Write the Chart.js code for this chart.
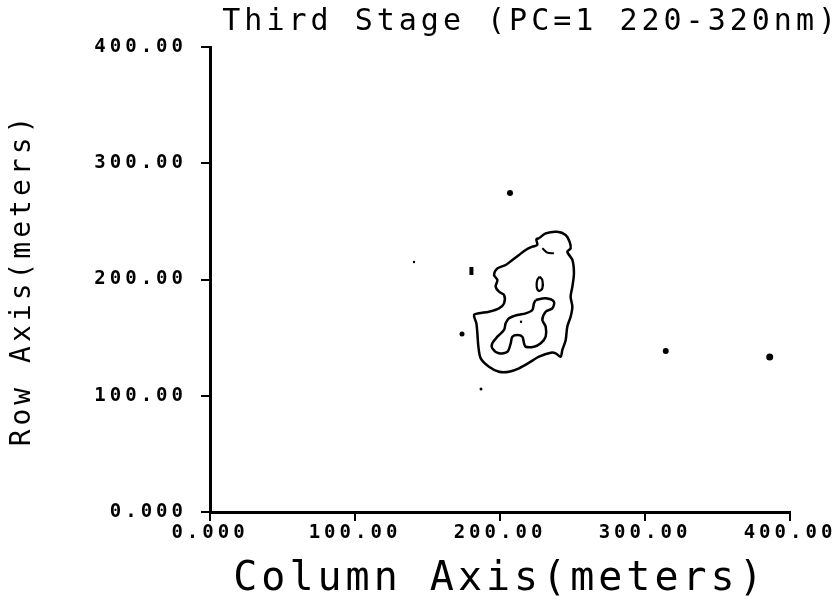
<!DOCTYPE html>
<html>
<head>
<meta charset="utf-8">
<script src="https://cdn.jsdelivr.net/npm/chart.js@4.4.1/dist/chart.umd.min.js"></script>
<style>
    html, body { margin: 0; padding: 0; background: #fff; }
</style>
</head>
<body>
<canvas id="contour-chart" width="840" height="604"></canvas>
<script>
// Axis ticks
const tickValues = [0, 100, 200, 300, 400];
const tickLabels = ["0.000", "100.00", "200.00", "300.00", "400.00"];

// Contour lines, [column, row] in meters
const outerContour = [
    [226.9, 235.4], [231.5, 239.7], [239.5, 241.1], [245.3, 238.3], [248.0, 232.5],
    [248.7, 226.8], [246.4, 223.9], [249.9, 216.8], [251.0, 205.3], [249.9, 193.8],
    [248.7, 185.2], [249.9, 176.6], [248.7, 168.0], [246.4, 159.4], [245.3, 148.0],
    [243.0, 139.4], [241.8, 133.6], [238.4, 136.5], [235.0, 137.0], [226.9, 133.6],
    [221.2, 129.3], [213.1, 123.6], [206.2, 120.7], [199.3, 120.7], [192.4, 125.0],
    [186.7, 132.2], [185.1, 142.2], [184.4, 153.7], [183.7, 162.3], [182.1, 169.5],
    [185.5, 170.9], [192.4, 172.3], [199.3, 175.2], [202.8, 179.5], [202.8, 186.7],
    [199.3, 189.5], [197.0, 193.8], [198.2, 199.6], [195.9, 203.9], [198.2, 209.6],
    [203.9, 212.5], [208.5, 216.8], [213.1, 221.1], [217.7, 225.4], [222.3, 228.2],
    [225.7, 229.7], [225.1, 234.6], [226.9, 235.4]
];
const innerContour = [
    [224.6, 182.4], [231.5, 183.8], [237.2, 180.9], [236.1, 175.2], [231.5, 172.3],
    [229.2, 165.2], [231.5, 159.4], [231.5, 150.8], [228.1, 145.1], [223.4, 142.2],
    [217.7, 142.2], [216.6, 145.1], [215.4, 150.8], [212.0, 152.3], [208.5, 150.8],
    [207.4, 145.1], [205.1, 137.9], [199.3, 136.5], [194.7, 140.8], [194.7, 145.1],
    [198.2, 150.8], [202.8, 156.6], [203.9, 162.3], [206.2, 166.6], [212.0, 169.5],
    [217.7, 170.9], [222.3, 173.8], [223.4, 179.5], [224.6, 182.4]
];
const ovalContour = [
    [227.4, 202.4], [229.2, 199.6], [229.2, 192.4], [226.9, 190.1], [225.3, 193.8],
    [225.7, 199.6], [227.4, 202.4]
];
const notchLine = [[229.2, 226.8], [232.6, 223.1], [237.2, 222.5]];
const stickBlob = [[180.3, 210.8], [180.3, 203.9]];

// Isolated specks
const specks = [
    [206.9, 274.4], [140.7, 215.1], [173.8, 153.1], [186.9, 105.8],
    [214.5, 163.7], [314.3, 138.5], [386.0, 133.3]
];

const toPoints = (pairs) => pairs.map(([x, y]) => ({ x, y }));

function lineSet(pairs, width) {
    return {
        data: toPoints(pairs),
        showLine: true,
        borderColor: "#000",
        borderWidth: width,
        pointRadius: 0,
        tension: 0.3,
        fill: false,
    };
}

// Plotter-style wide lettering
const spacingPlugin = {
    id: "spacing",
    beforeDraw(chart) {
        chart.ctx.letterSpacing = "4px";
    },
};

const axisFont = { family: "'DejaVu Sans Mono'", size: 19, weight: "bold" };

function axisOptions(titleText, titleFont, titlePadding) {
    return {
        type: "linear",
        min: 0,
        max: 400,
        afterBuildTicks: (scale) => {
            scale.ticks = tickValues.map((v) => ({ value: v }));
        },
        ticks: {
            color: "#000",
            font: axisFont,
            maxRotation: 0,
            callback: (value) => tickLabels[tickValues.indexOf(value)],
        },
        grid: {
            drawOnChartArea: false,
            color: "#000",
            lineWidth: 2,
            tickLength: 9,
        },
        border: { color: "#000", width: 3 },
        title: {
            display: true,
            text: titleText,
            color: "#000",
            font: titleFont,
            padding: titlePadding,
        },
    };
}

const xAxis = axisOptions("Column Axis(meters)",
    { family: "'DejaVu Sans Mono'", size: 40 }, { top: 0, bottom: 0 });
xAxis.ticks.padding = 1;
xAxis.afterFit = (scale) => {
    scale.height = 92;
    scale.paddingLeft = 0;
    scale.paddingRight = 50;
};

const yAxis = axisOptions("Row Axis(meters)",
    { family: "'DejaVu Sans Mono'", size: 28 }, { top: 6, bottom: 0 });
yAxis.ticks.padding = 14;
yAxis.afterFit = (scale) => {
    scale.width = 210;
    scale.paddingTop = 0;
    scale.paddingBottom = 0;
};

const ctx = document.getElementById("contour-chart").getContext("2d");
new Chart(ctx, {
    type: "scatter",
    data: {
        datasets: [
            lineSet(outerContour, 2.5),
            lineSet(innerContour, 2.5),
            lineSet(ovalContour, 2.2),
            lineSet(notchLine, 2),
            lineSet(stickBlob, 4),
            {
                data: toPoints(specks),
                backgroundColor: "#000",
                borderColor: "#000",
                borderWidth: 0,
                pointRadius: [3, 1.2, 2.5, 1.5, 1.2, 3, 3.5],
            },
        ],
    },
    options: {
        responsive: false,
        animation: false,
        layout: { padding: 0 },
        plugins: {
            legend: { display: false },
            tooltip: { enabled: false },
            title: {
                display: true,
                text: "Third Stage (PC=1 220-320nm)",
                align: "end",
                color: "#000",
                font: { family: "'DejaVu Sans Mono'", size: 30, weight: "normal" },
                padding: { top: 4, bottom: 7 },
            },
        },
        scales: { x: xAxis, y: yAxis },
    },
    plugins: [spacingPlugin],
});
</script>
</body>
</html>
